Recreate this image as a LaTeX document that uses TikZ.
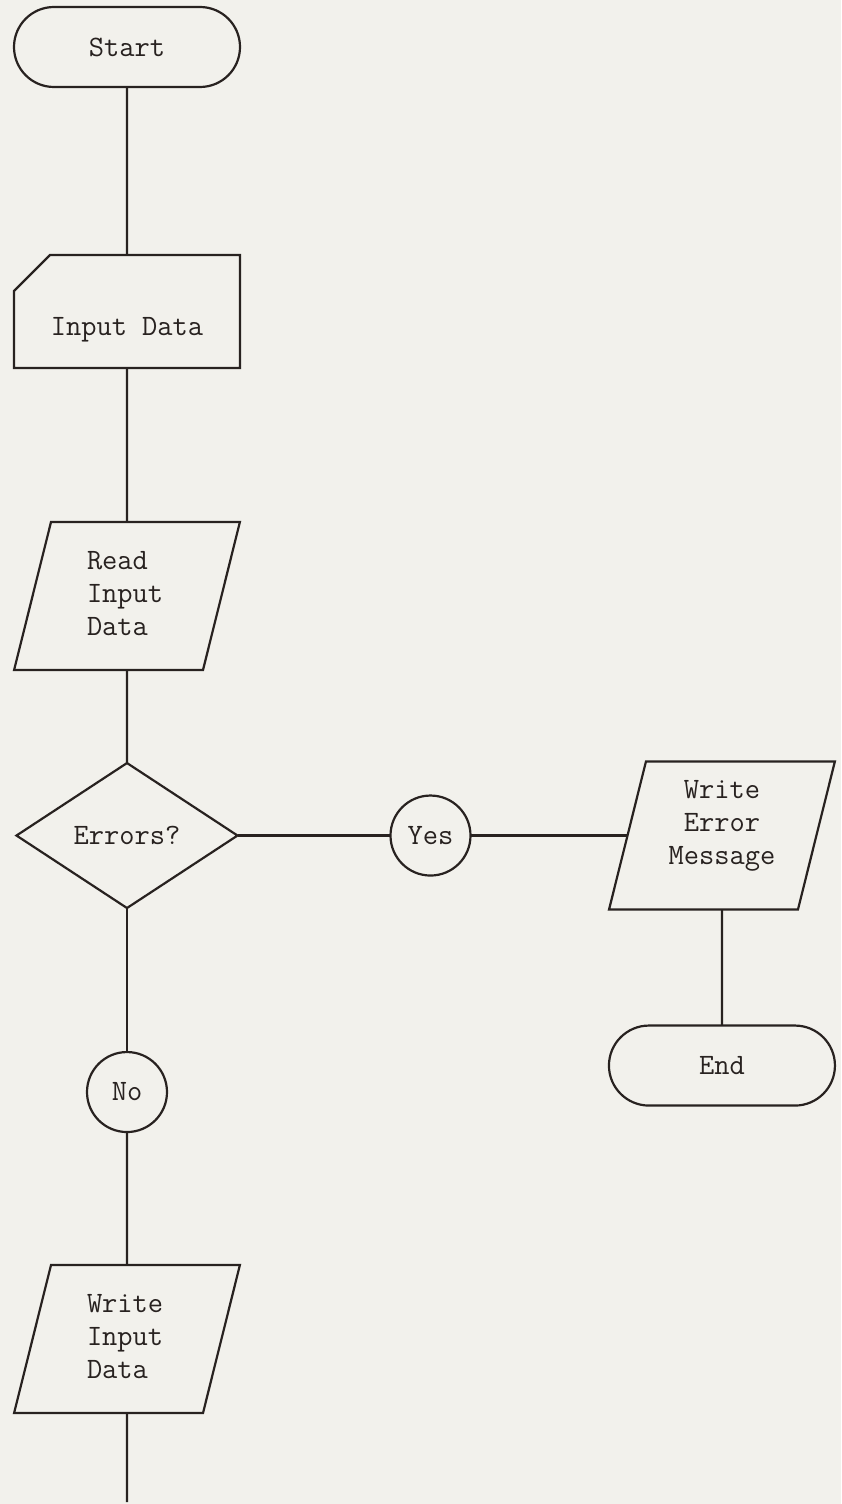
\documentclass[tikz,border=0pt]{standalone}
\usepackage{fontspec}
\usepackage{xcolor}
\usepackage{tikz}
\usetikzlibrary{shapes.geometric, shapes.misc, positioning}

\definecolor{paper}{RGB}{242,241,236}
\definecolor{ink}{RGB}{40,34,32}

\begin{document}
\begin{tikzpicture}[
    node distance=0.6cm,
    every node/.style={font=\ttfamily\addfontfeature{FakeBold=0.6}\fontsize{14.8}{16.5}\selectfont, text=ink, outer sep=0pt},
    termnode/.style={rounded rectangle, draw=ink, line width=1.1pt, minimum width=113pt, minimum height=40pt, inner sep=0pt},
    cardnode/.style={chamfered rectangle, chamfered rectangle corners=north west, chamfered rectangle xsep=9pt, chamfered rectangle ysep=9pt, draw=ink, line width=1.1pt, minimum width=113pt, minimum height=56.5pt, inner sep=0pt, text height=26pt, text depth=2.5pt},
    ionode/.style={trapezium, trapezium left angle=76, trapezium right angle=104, draw=ink, line width=1.1pt, inner ysep=0pt, inner xsep=18pt, text width=40pt, text height=23.5pt, text depth=50.5pt},
    decnode/.style={diamond, aspect=1.5, draw=ink, line width=1.1pt, minimum width=110.5pt, minimum height=72.5pt, inner sep=0pt},
    labnode/.style={circle, draw=ink, line width=1.1pt, minimum size=40pt, inner sep=0pt},
    link/.style={draw=ink, line width=1.1pt}
]
% page
\fill[paper] (0,0) rectangle (420.5pt,-752pt);
\useasboundingbox (0,0) rectangle (420.5pt,-752pt);

% main column
\node[termnode] (start) at (63.5pt,-23.5pt) {Start};
\node[cardnode] (card) [below=84pt of start] {Input Data};
\node[ionode, align=left] (read) [below=77pt of card] {Read\\Input\\Data};
\node[decnode] (errors) [below=46.5pt of read] {Errors?};
\node[labnode] (no) [below=72pt of errors] {No};
\node[ionode, align=left] (wdat) [below=66.5pt of no] {Write\\Input\\Data};
\coordinate[below=44.5pt of wdat] (tail);

% error branch
\node[labnode] (yes) [right=76.5pt of errors] {Yes};
\node[ionode, align=center, text width=56pt, inner xsep=10pt, text height=18.5pt, text depth=55.5pt] (werr) [right=78.5pt of yes, anchor=left side] {Write\\Error\\Message};
\node[termnode] (end) [below=58pt of werr] {End};

\draw[link] (start) -- (card);
\draw[link] (card) -- (read);
\draw[link] (read) -- (errors);
\draw[link] (errors) -- (no);
\draw[link] (no) -- (wdat);
\draw[link] (wdat) -- (tail);
\draw[link] (errors) -- (yes);
\draw[link] (yes) -- (werr.left side);
\draw[link] (werr) -- (end);
\end{tikzpicture}
\end{document}
